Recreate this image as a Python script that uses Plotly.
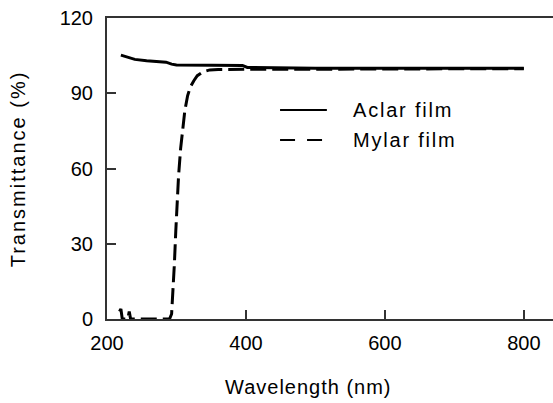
import plotly.graph_objects as go

# Aclar film transmittance
aclar_wl = [220, 225, 232, 240, 257, 270, 285, 293, 300, 350, 395, 402,
            450, 500, 550, 600, 650, 700, 750, 800]
aclar_t = [105.2, 104.8, 104.0, 103.5, 103.0, 102.7, 102.4, 101.6, 101.3, 101.2, 101.1, 100.3,
           100.1, 100.0, 100.0, 100.0, 100.0, 100.0, 100.0, 100.0]

# Mylar film transmittance
mylar_wl = [218, 220, 222, 226, 230, 232, 234, 238, 250, 270, 290, 293, 295, 297, 299,
            301, 303, 306, 309, 312, 316, 320, 325, 330, 338, 348, 360, 400, 500, 600,
            700, 800]
mylar_t = [3, 4, 0, 0, 0, 3, 0, 0, 0, 0, 0, 2, 10, 22, 35,
           47, 57, 68, 77, 83, 89, 92.5, 95, 97, 98.5, 99.3, 99.5, 99.5, 99.5, 99.5,
           99.5, 99.8]

series_names = ["Aclar film", "Mylar film"]
x_ticks = [200, 400, 600, 800]
y_ticks = [0, 30, 60, 90, 120]

FONT = "Liberation Sans, Arial, sans-serif"


def spaced(text, px):
    return f'<span style="letter-spacing:{px}px">{text}</span>'


fig = go.Figure()
fig.add_trace(go.Scatter(x=aclar_wl, y=aclar_t, mode="lines", name=series_names[0],
                         line=dict(color="black", width=3), showlegend=False))
fig.add_trace(go.Scatter(x=mylar_wl, y=mylar_t, mode="lines", name=series_names[1],
                         line=dict(color="black", width=3, dash="16px,6px"), showlegend=False))

axis_common = dict(showgrid=False, zeroline=False, showline=True, linecolor="#333333",
                   linewidth=2, ticks="inside", ticklen=9, tickwidth=1.5,
                   tickcolor="#333333",
                   tickfont=dict(family=FONT, size=20, color="black"))

fig.update_xaxes(range=[200, 842], tickvals=x_ticks, mirror=True, ticklabelstandoff=5,
                 **axis_common)
fig.update_yaxes(range=[0, 120], tickvals=y_ticks, mirror=False, ticklabelstandoff=8,
                 **axis_common)

# hand-made legend (key lines + labels) in paper coordinates
legend_y = [0.694, 0.595]
legend_dash = ["solid", "15px,12px"]
shapes = []
annotations = []
for name, ly, dash in zip(series_names, legend_y, legend_dash):
    shapes.append(dict(type="line", xref="paper", yref="paper", x0=0.388, x1=0.493,
                       y0=ly, y1=ly, line=dict(color="black", width=2, dash=dash)))
    annotations.append(dict(text=spaced(name, 1.8), xref="paper", yref="paper",
                            x=0.547, y=ly, xanchor="left", yanchor="middle",
                            showarrow=False,
                            font=dict(family=FONT, size=20, color="black")))

annotations += [
    dict(text=spaced("Wavelength (nm)", 1), xref="paper", yref="paper", x=0.451, y=-0.225,
         xanchor="center", yanchor="middle", showarrow=False,
         font=dict(family=FONT, size=20, color="black")),
    dict(text=spaced("Transmittance (%)", 2), xref="paper", yref="paper", x=-0.2, y=0.5,
         xanchor="center", yanchor="middle", showarrow=False, textangle=-90,
         font=dict(family=FONT, size=20, color="black")),
]

fig.update_layout(
    width=553, height=403,
    margin=dict(l=107, r=0, t=18, b=84),
    plot_bgcolor="white", paper_bgcolor="white",
    showlegend=False,
    shapes=shapes,
    annotations=annotations,
)

fig.write_html("out.html")
